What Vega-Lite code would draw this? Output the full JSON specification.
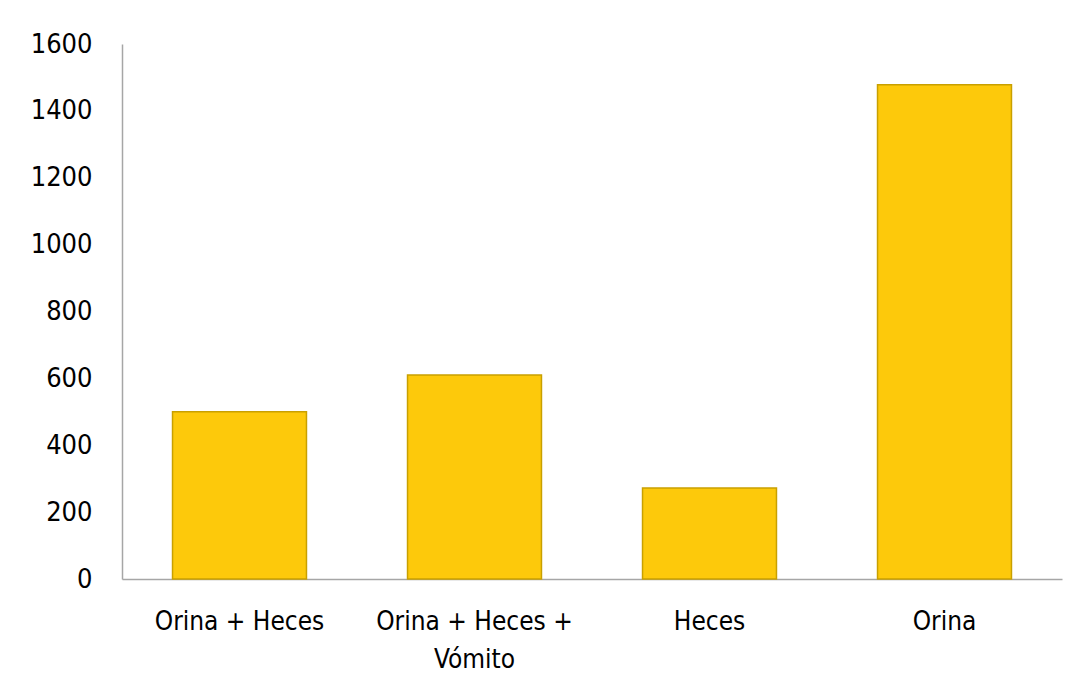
{
  "$schema": "https://vega.github.io/schema/vega-lite/v6.json",
  "autosize": {"type": "none"},
  "width": 940,
  "height": 535,
  "padding": {"left": 122, "top": 44, "right": 19, "bottom": 116},
  "background": "white",
  "config": {"view": {"stroke": null}},
  "data": {
    "values": [
      {"tipo": "Orina + Heces", "valor": 500},
      {"tipo": "Orina + Heces + Vómito", "valor": 610},
      {"tipo": "Heces", "valor": 272},
      {"tipo": "Orina", "valor": 1478}
    ]
  },
  "mark": {
    "type": "bar",
    "fill": "#FDC90B",
    "stroke": "#C9A000",
    "strokeWidth": 1.5
  },
  "encoding": {
    "x": {
      "field": "tipo",
      "type": "nominal",
      "sort": null,
      "scale": {"paddingInner": 0.43, "paddingOuter": 0.215},
      "axis": {
        "title": null,
        "labelAngle": 0,
        "labelFont": "DejaVu Sans Condensed, Roboto, sans-serif",
        "labelFontSize": 26,
        "labelColor": "#000000",
        "labelPadding": 29,
        "labelLineHeight": 38,
        "labelExpr": "datum.value == 'Orina + Heces + Vómito' ? ['Orina + Heces +', 'Vómito'] : datum.value",
        "ticks": false,
        "tickSize": 0,
        "domainColor": "#A6A6A6",
        "domainWidth": 1.5,
        "labelLimit": 300
      }
    },
    "y": {
      "field": "valor",
      "type": "quantitative",
      "scale": {"domain": [0, 1600], "nice": false},
      "axis": {
        "title": null,
        "values": [0, 200, 400, 600, 800, 1000, 1200, 1400, 1600],
        "format": "d",
        "labelFont": "DejaVu Sans Condensed, Roboto, sans-serif",
        "labelFontSize": 27,
        "labelColor": "#000000",
        "labelPadding": 30,
        "ticks": false,
        "tickSize": 0,
        "grid": false,
        "domainColor": "#A6A6A6",
        "domainWidth": 1.5
      }
    }
  }
}
